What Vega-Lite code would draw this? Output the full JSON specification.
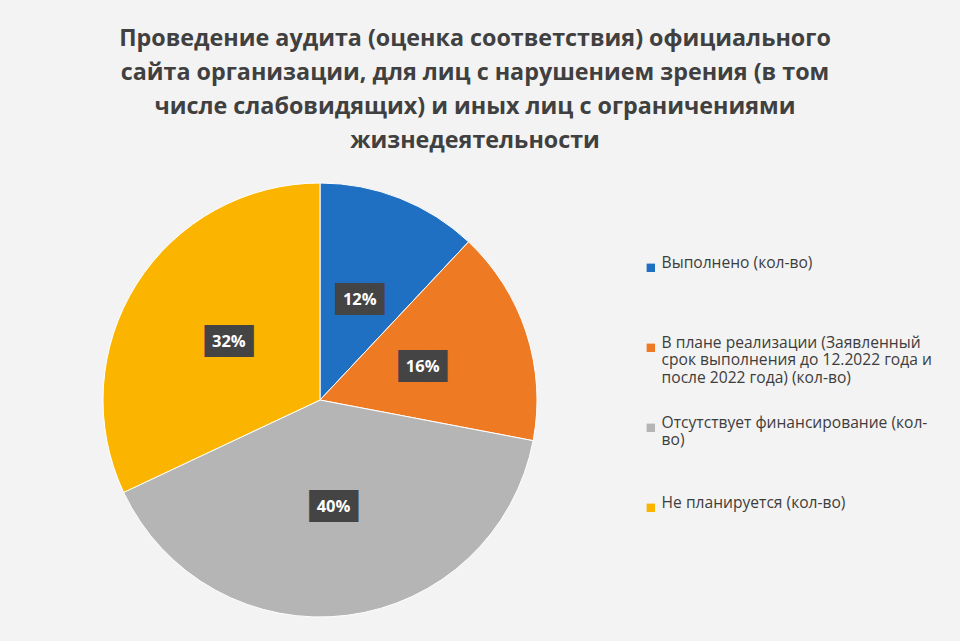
{
  "$schema": "https://vega.github.io/schema/vega-lite/v6.json",
  "autosize": {"type": "none"},
  "width": 640,
  "height": 440,
  "padding": {"left": 0, "right": 320, "top": 180, "bottom": 21},
  "background": "#f3f3f3",
  "title": {
    "text": ["Проведение аудита (оценка соответствия) официального", "сайта организации, для лиц с нарушением зрения (в том", "числе слабовидящих) и иных лиц с ограничениями", "жизнедеятельности"],
    "font": "Open Sans",
    "fontSize": 23.3,
    "fontWeight": "bold",
    "color": "#404040",
    "lineHeight": 34,
    "anchor": "middle",
    "frame": "bounds",
    "dx": 9,
    "offset": 27
  },
  "data": {
    "values": [
      {"n": 1, "cat": "Выполнено (кол-во)", "value": 12, "label": "12%"},
      {"n": 2, "cat": "В плане реализации (Заявленный срок выполнения до 12.2022 года и после 2022 года) (кол-во)", "value": 16, "label": "16%"},
      {"n": 3, "cat": "Отсутствует финансирование (кол-во)", "value": 40, "label": "40%"},
      {"n": 4, "cat": "Не планируется (кол-во)", "value": 32, "label": "32%"}
    ]
  },
  "encoding": {
    "theta": {"field": "value", "type": "quantitative", "stack": true},
    "order": {"field": "n", "type": "quantitative"}
  },
  "layer": [
    {
      "mark": {"type": "arc", "outerRadius": 217, "stroke": "#ffffff", "strokeWidth": 1},
      "encoding": {
        "color": {
          "field": "cat",
          "type": "nominal",
          "sort": null,
          "scale": {
            "domain": ["Выполнено (кол-во)", "В плане реализации (Заявленный срок выполнения до 12.2022 года и после 2022 года) (кол-во)", "Отсутствует финансирование (кол-во)", "Не планируется (кол-во)"],
            "range": ["#1f6fc2", "#ef7a24", "#b5b5b5", "#fbb400"]
          },
          "legend": {
            "title": null,
            "orient": "none",
            "legendX": 643,
            "legendY": 80,
            "symbolType": "square",
            "symbolSize": 70,
            "symbolStrokeWidth": 0,
            "labelFont": "Open Sans",
            "labelFontSize": 15.6,
            "labelColor": "#3d3d3d",
            "labelBaseline": "alphabetic",
            "labelLimit": 400,
            "labelOffset": 3,
            "rowPadding": 28,
            "labelExpr": "datum.value == 'Выполнено (кол-во)' ? ['Выполнено (кол-во)', '', ''] : datum.value == 'Не планируется (кол-во)' ? ['Не планируется (кол-во)', '', ''] : datum.value == 'Отсутствует финансирование (кол-во)' ? ['Отсутствует финансирование (кол-', 'во)', ''] : ['В плане реализации (Заявленный', 'срок выполнения до 12.2022 года и', 'после 2022 года) (кол-во)']"
          }
        }
      }
    },
    {
      "mark": {"type": "text", "radius": 108, "font": "DejaVu Sans Mono", "fontSize": 27, "color": "#444444", "baseline": "middle", "align": "center"},
      "encoding": {"text": {"value": "███"}}
    },
    {
      "mark": {"type": "text", "radius": 108, "font": "Open Sans", "fontSize": 16.5, "fontWeight": "bold", "color": "#ffffff", "baseline": "middle", "align": "center"},
      "encoding": {"text": {"field": "label", "type": "nominal"}}
    }
  ]
}
